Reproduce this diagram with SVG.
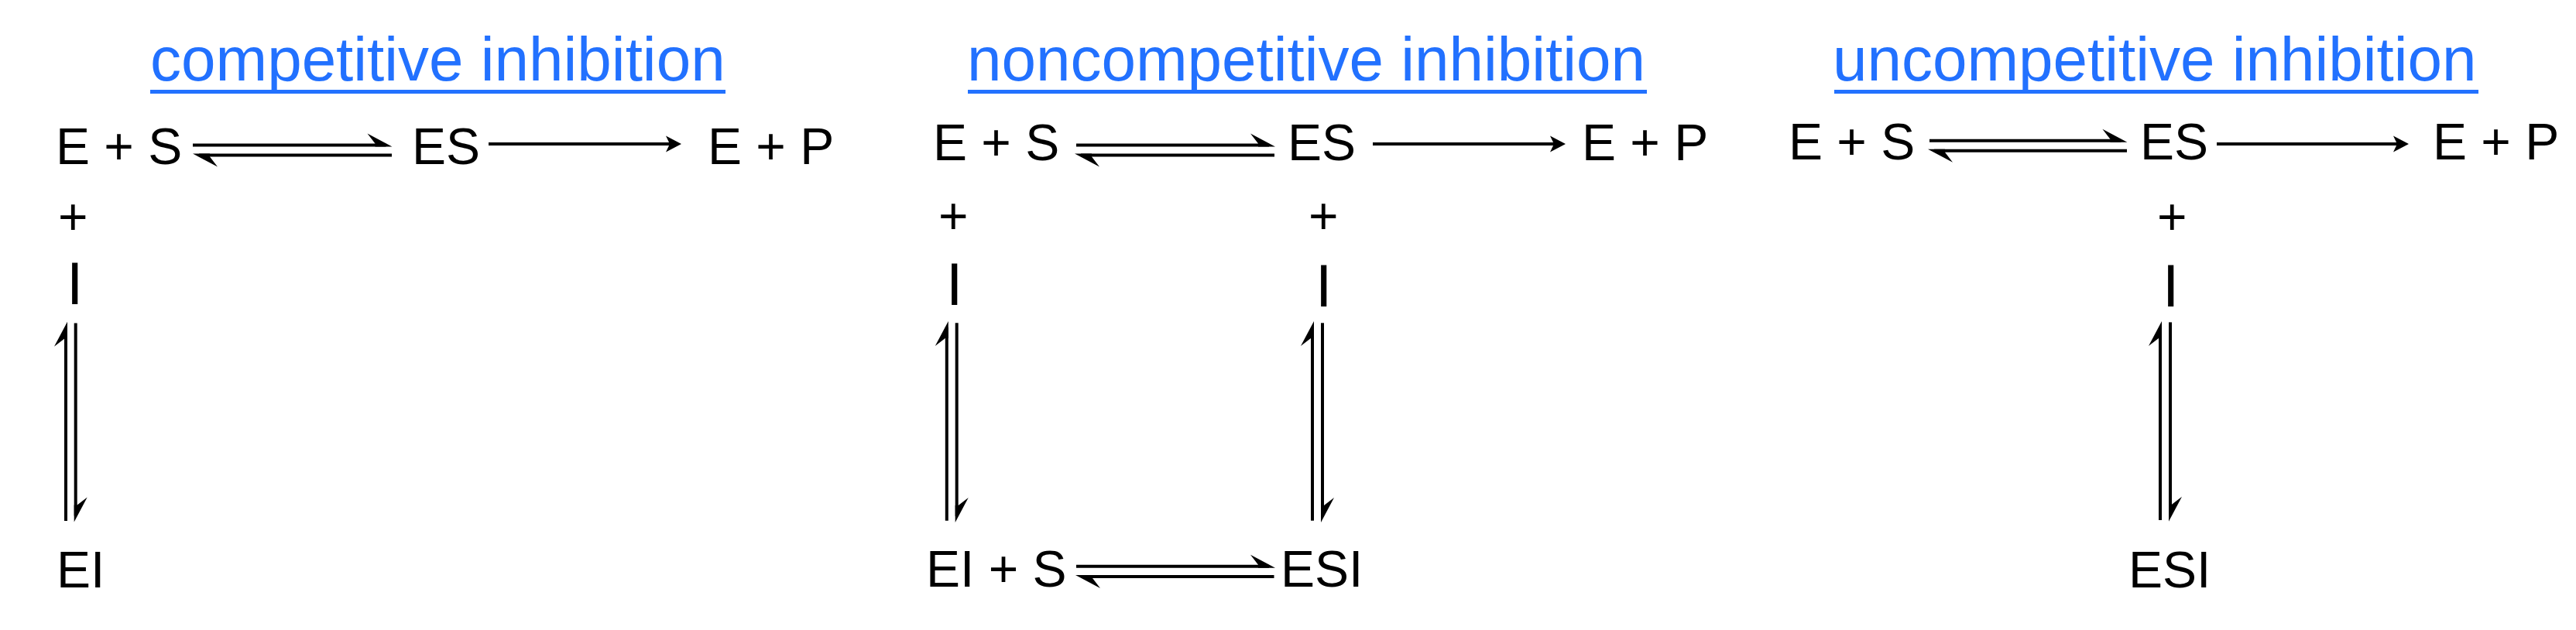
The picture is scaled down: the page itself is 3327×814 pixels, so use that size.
<svg xmlns="http://www.w3.org/2000/svg" xmlns:xlink="http://www.w3.org/1999/xlink" width="3327" height="814" viewBox="0 0 3327 814">
<style>
text{font-family:"Liberation Sans",Arial,sans-serif;fill:#000}
.t{font-size:66px}
.ti{font-size:77px}
.h{font-size:80px;fill:#2271ff}
.ul{fill:#2271ff}
.ln{stroke:#000;stroke-width:4;fill:none}
.hd{fill:#000}
</style>
<defs>
<path id="hh" d="M0,2 L-32,-15 L-22,-2 L-22,2 Z"/>
<path id="fh" d="M0,0 L-20,-10.5 L-15,0 L-20,10.5 Z"/>
</defs>
<rect width="3327" height="814" fill="#fff"/>

<g id="title-competitive"><text class="h" x="194" y="104">competitive inhibition</text><rect class="ul" x="194" y="116" width="743" height="5"/></g>
<g id="title-noncompetitive"><text class="h" x="1249" y="104">noncompetitive inhibition</text><rect class="ul" x="1250" y="116" width="877" height="5"/></g>
<g id="title-uncompetitive"><text class="h" x="2367" y="104">uncompetitive inhibition</text><rect class="ul" x="2369" y="116" width="832" height="5"/></g>

<g id="p1-ES-reactants"><text class="t" x="72" y="211.5">E + S</text></g>
<g id="p1-ES"><text class="t" x="532" y="211.5">ES</text></g>
<g id="p1-EP"><text class="t" x="914" y="211.5">E + P</text></g>
<g id="p1-plus"><text class="t" x="75" y="302.5">+</text></g>
<g id="p1-I"><text class="ti" x="86" y="393">I</text></g>
<g id="p1-EI"><text class="t" x="73" y="759">EI</text></g>

<g id="p2-ES-reactants"><text class="t" x="1205" y="206.5">E + S</text></g>
<g id="p2-ES"><text class="t" x="1663" y="206.5">ES</text></g>
<g id="p2-EP"><text class="t" x="2043" y="206.5">E + P</text></g>
<g id="p2-plus-left"><text class="t" x="1212" y="302">+</text></g>
<g id="p2-I-left"><text class="ti" x="1222" y="393.5">I</text></g>
<g id="p2-plus-right"><text class="t" x="1690" y="301.5">+</text></g>
<g id="p2-I-right"><text class="ti" x="1699" y="395.5">I</text></g>
<g id="p2-EIS"><text class="t" x="1196" y="758.3">EI + S</text></g>
<g id="p2-ESI"><text class="t" x="1654" y="758.3">ESI</text></g>

<g id="p3-ES-reactants"><text class="t" x="2310" y="206">E + S</text></g>
<g id="p3-ES"><text class="t" x="2764" y="206">ES</text></g>
<g id="p3-EP"><text class="t" x="3142" y="206">E + P</text></g>
<g id="p3-plus"><text class="t" x="2786" y="302.5">+</text></g>
<g id="p3-I"><text class="ti" x="2793" y="395.5">I</text></g>
<g id="p3-ESI"><text class="t" x="2749" y="759">ESI</text></g>

<g id="connectors">
<!-- panel 1 -->
<line class="ln" x1="249" y1="187.5" x2="498.5" y2="187.5"/>
<use href="#hh" class="hd" transform="translate(506.5,187.5)"/>
<line class="ln" x1="257" y1="200.5" x2="506" y2="200.5"/>
<use href="#hh" class="hd" transform="translate(249,200.5) rotate(180)"/>
<line class="ln" x1="631" y1="186" x2="866" y2="186"/>
<use href="#fh" class="hd" transform="translate(880,186)"/>
<line class="ln" x1="85" y1="423.7" x2="85" y2="673"/>
<use href="#hh" class="hd" transform="translate(85,415.7) rotate(-90)"/>
<line class="ln" x1="97.7" y1="417.5" x2="97.7" y2="666.5"/>
<use href="#hh" class="hd" transform="translate(97.7,674.5) rotate(90)"/>

<!-- panel 2 -->
<line class="ln" x1="1390" y1="187.5" x2="1639" y2="187.5"/>
<use href="#hh" class="hd" transform="translate(1647,187.5)"/>
<line class="ln" x1="1396" y1="200.5" x2="1646" y2="200.5"/>
<use href="#hh" class="hd" transform="translate(1388,200.5) rotate(180)"/>
<line class="ln" x1="1773" y1="186" x2="2008" y2="186"/>
<use href="#fh" class="hd" transform="translate(2022,186)"/>
<line class="ln" x1="1222.8" y1="423" x2="1222.8" y2="672.7"/>
<use href="#hh" class="hd" transform="translate(1222.8,415) rotate(-90)"/>
<line class="ln" x1="1235.7" y1="417.3" x2="1235.7" y2="667"/>
<use href="#hh" class="hd" transform="translate(1235.7,675) rotate(90)"/>
<line class="ln" x1="1695" y1="423" x2="1695" y2="672.7"/>
<use href="#hh" class="hd" transform="translate(1695,415) rotate(-90)"/>
<line class="ln" x1="1708" y1="417.3" x2="1708" y2="667"/>
<use href="#hh" class="hd" transform="translate(1708,675) rotate(90)"/>
<line class="ln" x1="1390" y1="731.7" x2="1639" y2="731.7"/>
<use href="#hh" class="hd" transform="translate(1647,731.7)"/>
<line class="ln" x1="1397" y1="745" x2="1645.5" y2="745"/>
<use href="#hh" class="hd" transform="translate(1389,745) rotate(180)"/>

<!-- panel 3 -->
<line class="ln" x1="2492" y1="181.7" x2="2739.4" y2="181.7"/>
<use href="#hh" class="hd" transform="translate(2747.4,181.7)"/>
<line class="ln" x1="2498" y1="194.7" x2="2747" y2="194.7"/>
<use href="#hh" class="hd" transform="translate(2490,194.7) rotate(180)"/>
<line class="ln" x1="2863" y1="186" x2="3097" y2="186"/>
<use href="#fh" class="hd" transform="translate(3111,186)"/>
<line class="ln" x1="2790" y1="423" x2="2790" y2="672"/>
<use href="#hh" class="hd" transform="translate(2790,415) rotate(-90)"/>
<line class="ln" x1="2803" y1="416.4" x2="2803" y2="665.7"/>
<use href="#hh" class="hd" transform="translate(2803,673.7) rotate(90)"/>
</g>
</svg>
